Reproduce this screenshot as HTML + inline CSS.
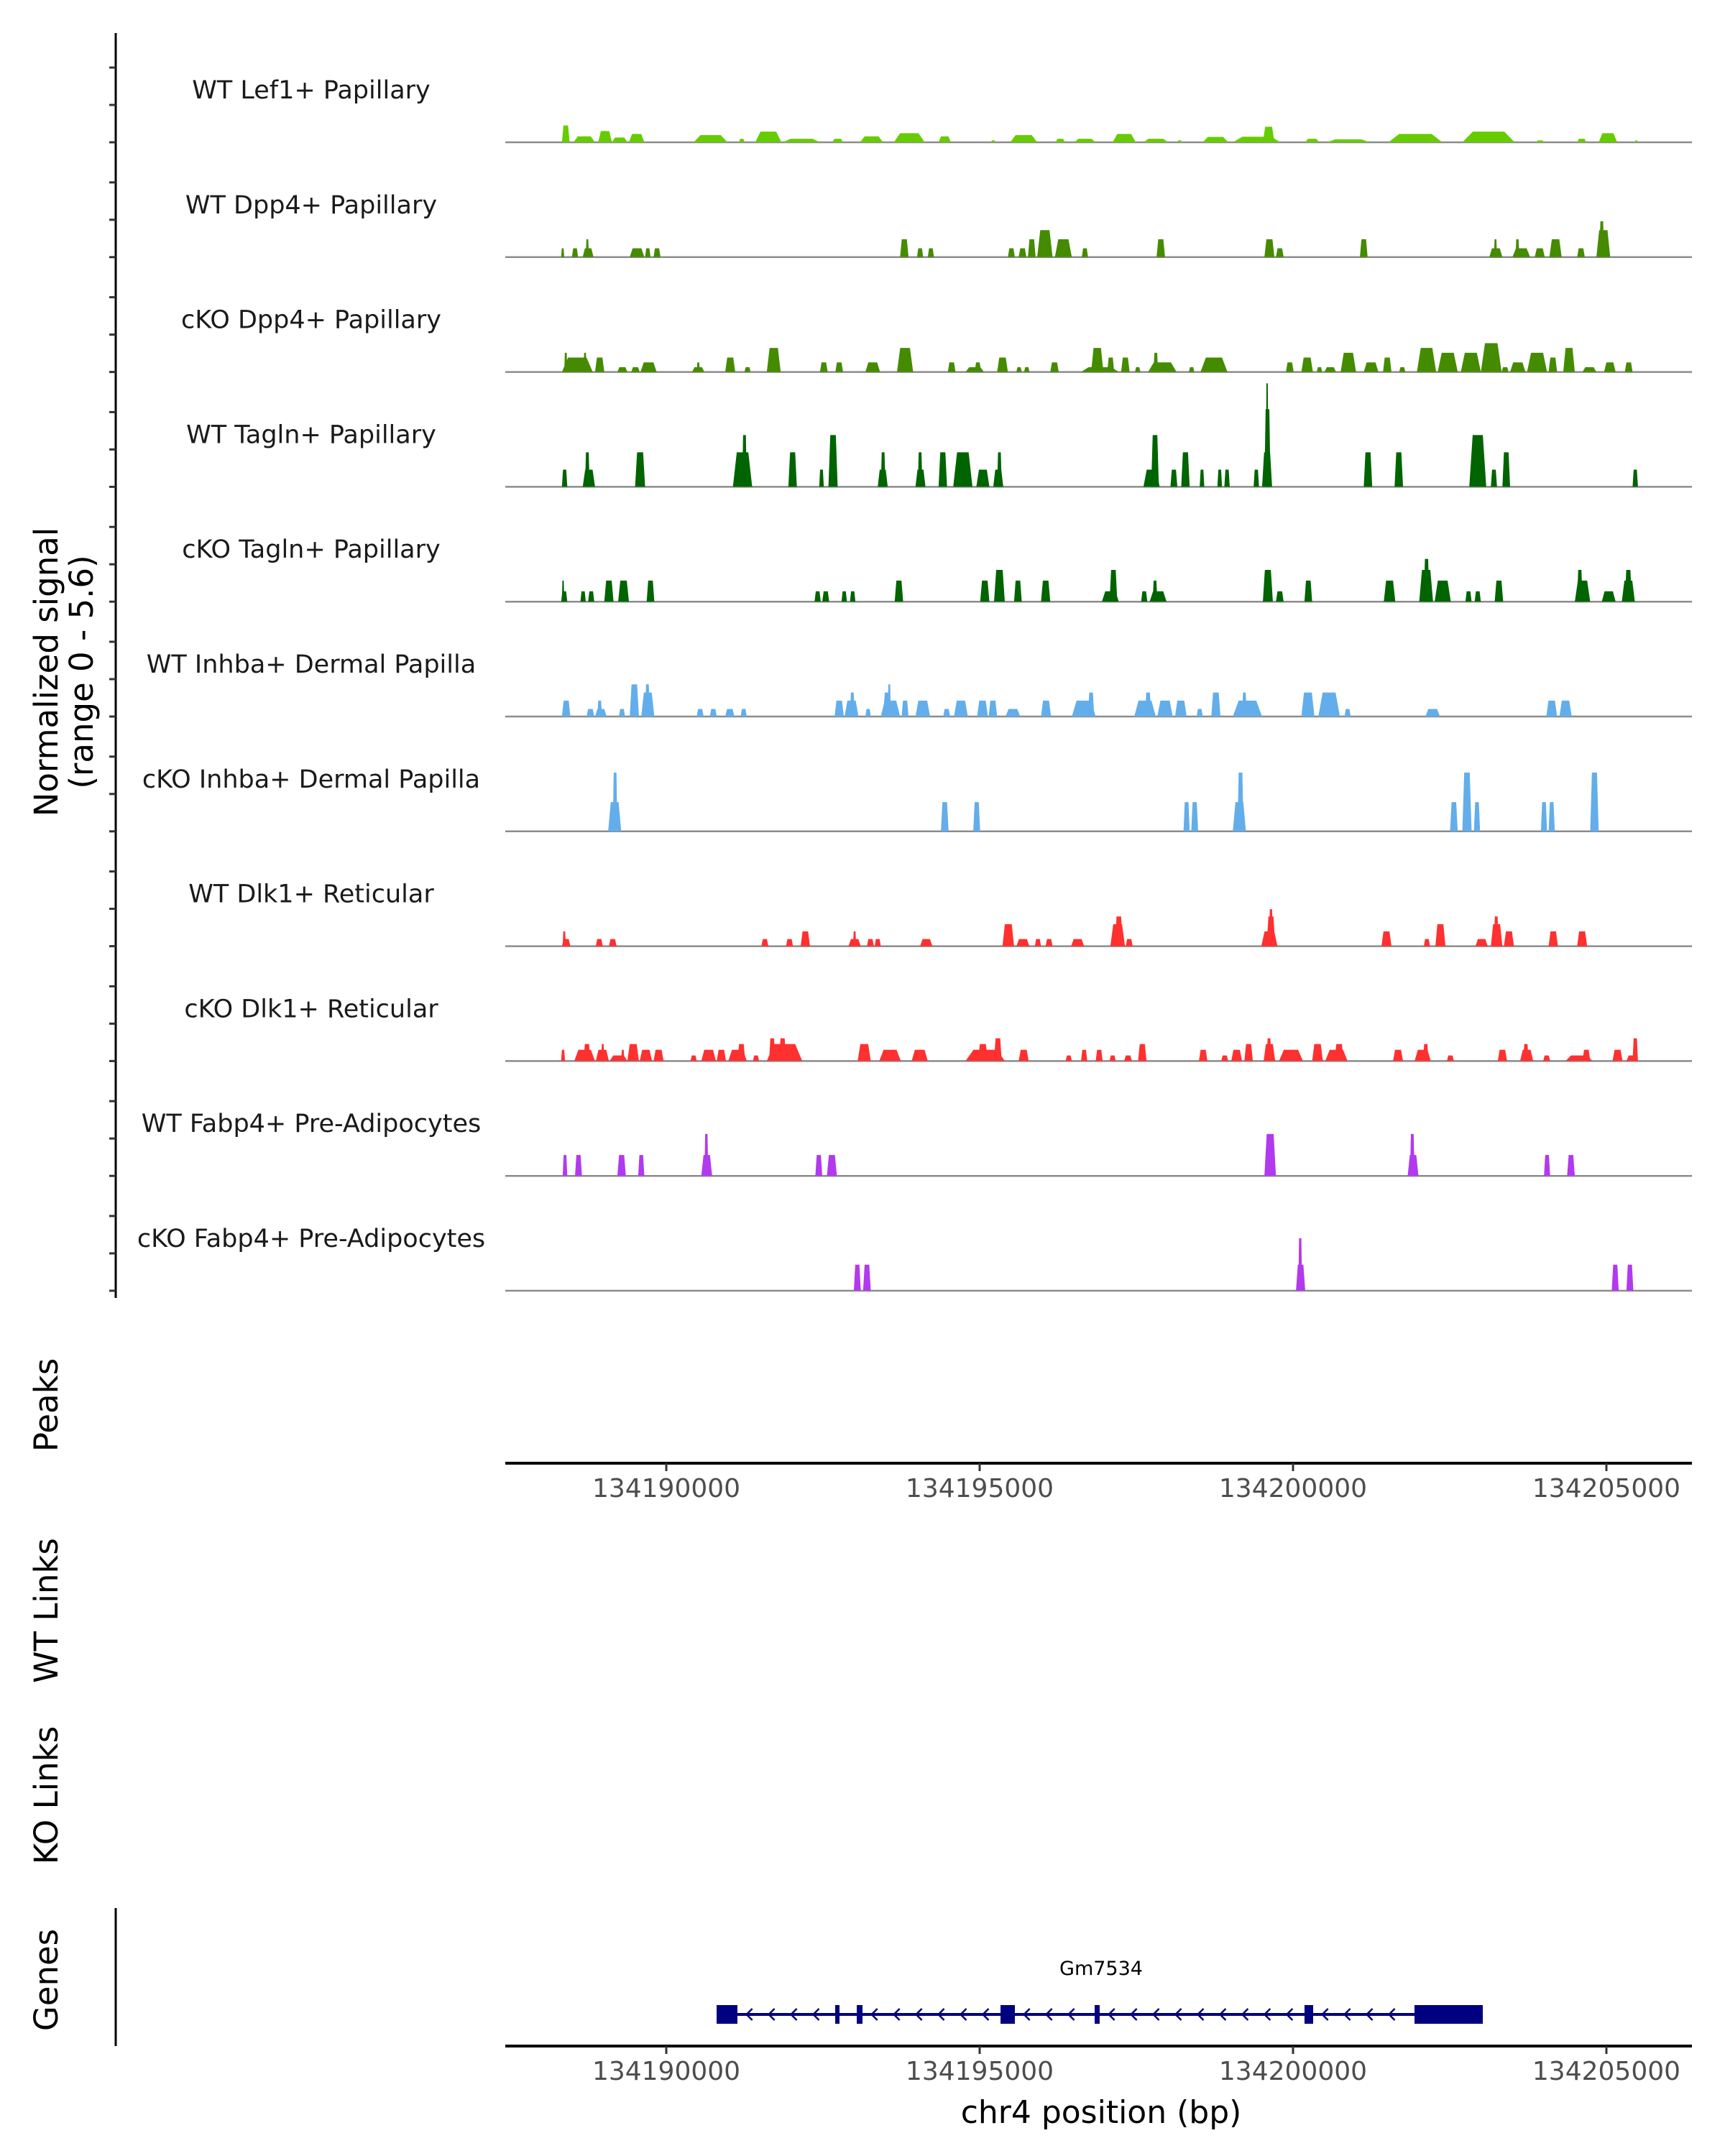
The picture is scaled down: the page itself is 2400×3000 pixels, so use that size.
<!DOCTYPE html>
<html><head><meta charset="utf-8"><title>Coverage plot</title>
<style>
html,body{margin:0;padding:0;background:#fff;}
svg{display:block;font-family:"DejaVu Sans","Liberation Sans",sans-serif;}
</style></head>
<body>
<svg id="chart" width="2400" height="3000" viewBox="0 0 2400 3000" xmlns="http://www.w3.org/2000/svg">
<rect width="2400" height="3000" fill="#fff"/>
<line x1="161" y1="46" x2="161" y2="1806" stroke="#000" stroke-width="3"/>
<g id="yticks"></g>
<text transform="translate(80,935) rotate(-90)" text-anchor="middle" font-size="45" fill="#000">Normalized signal</text>
<text transform="translate(129,935) rotate(-90)" text-anchor="middle" font-size="45" fill="#000">(range 0 - 5.6)</text>
<g id="tracks"></g>
<text transform="translate(80,1955) rotate(-90)" text-anchor="middle" font-size="45">Peaks</text>
<g id="axisTop"></g>
<text transform="translate(80,2241) rotate(-90)" text-anchor="middle" font-size="45">WT Links</text>
<text transform="translate(80,2498) rotate(-90)" text-anchor="middle" font-size="45">KO Links</text>
<text transform="translate(80,2755) rotate(-90)" text-anchor="middle" font-size="45">Genes</text>
<line x1="161" y1="2655" x2="161" y2="2847" stroke="#000" stroke-width="3"/>
<g id="gene"></g>
<text x="1532" y="2748" text-anchor="middle" font-size="27">Gm7534</text>
<g id="axisBottom"></g>
<text x="1532" y="2954" text-anchor="middle" font-size="44">chr4 position (bp)</text>
</svg>
<script>
// genomic bins: REGION_START + bin * BIN_BP
const REGION_START = 134187413;
const BIN_BP = 12.29;
const SIGNAL_MAX = 5.6;
const trackNames = ["WT Lef1+ Papillary","WT Dpp4+ Papillary","cKO Dpp4+ Papillary","WT Tagln+ Papillary","cKO Tagln+ Papillary","WT Inhba+ Dermal Papilla","cKO Inhba+ Dermal Papilla","WT Dlk1+ Reticular","cKO Dlk1+ Reticular","WT Fabp4+ Pre-Adipocytes","cKO Fabp4+ Pre-Adipocytes"];
const trackColors = ["#66cc00","#458b00","#458b00","#006400","#006400","#63aeea","#63aeea","#ff3030","#ff3030","#b23aee","#b23aee"];
const xTicks = [134190000,134195000,134200000,134205000];
// peaks: [startBin, endBin, signal]
const wtLef1 = [[75,85,0.91],[90,118,0.32],[122,140,0.61],[140,160,0.26],[162,182,0.45],[246,290,0.39],[305,312,0.19],[326,360,0.58],[362,410,0.19],[426,440,0.19],[462,492,0.32],[506,546,0.49],[564,580,0.32],[632,638,0.10],[657,692,0.39],[716,728,0.19],[740,768,0.19],[790,820,0.45],[830,862,0.19],[874,880,0.10],[907,940,0.29],[946,1008,0.30],[985,1000,0.84],[1040,1058,0.19],[1068,1124,0.16],[1148,1218,0.45],[1244,1312,0.58],[1340,1350,0.10],[1393,1405,0.19],[1421,1445,0.49],[1468,1472,0.10]];
const wtDpp4 = [[74,78,0.48],[88,96,0.48],[102,116,0.48],[106,110,0.97],[163,182,0.48],[183,190,0.48],[194,203,0.48],[514,525,0.97],[536,544,0.48],[550,558,0.48],[654,663,0.48],[668,678,0.48],[680,690,0.97],[692,712,1.46],[715,737,0.97],[750,758,0.48],[847,858,0.97],[987,1000,0.97],[1002,1012,0.48],[1111,1121,0.97],[1279,1296,0.48],[1285,1289,0.97],[1309,1332,0.48],[1313,1318,0.97],[1338,1351,0.48],[1357,1373,0.97],[1393,1403,0.48],[1418,1436,1.46],[1422,1428,1.94]];
const ckoDpp4 = [[75,115,0.78],[78,82,1.04],[103,107,1.04],[118,130,0.78],[147,160,0.26],[165,176,0.26],[177,198,0.52],[244,260,0.26],[250,254,0.52],[287,300,0.78],[312,320,0.26],[341,359,1.30],[410,420,0.52],[430,440,0.52],[469,488,0.52],[510,531,1.30],[576,586,0.52],[599,623,0.26],[611,619,0.52],[640,654,0.78],[665,672,0.26],[675,682,0.26],[709,720,0.52],[749,798,0.26],[762,778,1.30],[783,792,0.78],[801,812,0.78],[819,826,0.26],[836,873,0.52],[843,849,1.04],[889,896,0.26],[904,939,0.78],[1015,1025,0.52],[1035,1050,0.78],[1055,1062,0.26],[1065,1080,0.26],[1086,1106,1.04],[1116,1135,0.52],[1141,1152,0.78],[1162,1170,0.26],[1185,1210,1.30],[1212,1238,1.04],[1242,1268,1.04],[1268,1295,1.56],[1295,1304,0.26],[1306,1326,0.52],[1328,1354,1.04],[1356,1367,0.78],[1375,1390,1.30],[1400,1418,0.26],[1428,1443,0.52],[1455,1465,0.52]];
const wtTagln = [[75,82,0.93],[102,118,0.93],[105,111,1.87],[170,183,1.87],[297,322,1.87],[309,315,2.80],[369,380,1.87],[409,415,0.93],[421,433,2.80],[485,498,0.93],[489,495,1.87],[534,547,0.93],[537,543,1.87],[564,575,1.87],[583,608,1.87],[613,630,0.93],[635,648,0.93],[640,646,1.87],[830,851,0.93],[840,850,2.80],[865,874,0.93],[879,890,1.87],[903,909,0.93],[926,932,0.93],[935,942,0.93],[973,980,0.93],[984,997,1.87],[987,995,4.20],[989,992,5.60],[1116,1127,1.87],[1156,1167,1.87],[1253,1275,2.80],[1281,1289,0.93],[1296,1306,1.87],[1465,1472,0.93]];
const ckoTagln = [[74,82,0.56],[75,78,1.14],[99,106,0.56],[109,117,0.56],[130,142,1.14],[148,162,1.14],[185,195,1.14],[403,411,0.56],[413,422,0.56],[438,445,0.56],[449,456,0.56],[507,518,1.14],[618,630,1.14],[636,650,1.72],[662,672,1.14],[697,709,1.14],[776,798,0.56],[786,796,1.72],[827,835,0.56],[838,860,0.56],[842,848,1.14],[985,998,1.72],[1002,1012,0.56],[1039,1049,1.14],[1142,1157,1.14],[1188,1206,1.72],[1194,1201,2.31],[1208,1229,1.14],[1248,1256,0.56],[1260,1268,0.56],[1286,1297,1.14],[1390,1410,1.14],[1393,1400,1.72],[1425,1443,0.56],[1451,1468,1.14],[1455,1464,1.72]];
const wtInhba = [[75,86,0.86],[107,117,0.41],[118,133,0.41],[121,127,0.86],[149,157,0.41],[163,175,1.74],[178,195,1.30],[183,189,1.74],[250,259,0.41],[267,276,0.41],[287,299,0.41],[307,315,0.41],[429,441,0.86],[442,460,0.86],[449,455,1.30],[469,476,0.41],[489,514,0.86],[492,503,1.30],[498,502,1.74],[516,525,0.86],[534,553,0.86],[570,579,0.41],[584,602,0.86],[614,628,0.86],[629,640,0.86],[651,670,0.41],[697,710,0.86],[737,768,0.86],[758,766,1.30],[818,846,0.86],[832,840,1.30],[848,868,0.86],[871,886,0.86],[899,907,0.41],[918,930,1.30],[946,984,0.86],[958,964,1.30],[1035,1052,1.30],[1057,1085,1.30],[1091,1099,0.41],[1196,1215,0.41],[1353,1367,0.86],[1370,1386,0.86]];
const ckoInhba = [[135,152,1.58],[141,147,3.18],[567,577,1.58],[609,618,1.58],[882,890,1.58],[892,901,1.58],[946,963,1.58],[952,960,3.18],[1228,1238,1.58],[1244,1256,3.18],[1259,1267,1.58],[1346,1354,1.58],[1356,1364,1.58],[1410,1421,3.18]];
const wtDlk1 = [[75,86,0.39],[76,80,0.80],[119,128,0.39],[136,146,0.39],[334,343,0.39],[366,375,0.39],[385,397,0.80],[447,463,0.39],[453,457,0.80],[471,480,0.39],[481,489,0.39],[540,556,0.39],[647,662,1.19],[665,682,0.39],[689,697,0.39],[703,712,0.39],[736,753,0.39],[787,806,1.19],[793,803,1.61],[807,816,0.39],[983,1004,0.80],[990,1001,1.61],[993,998,2.00],[1139,1152,0.80],[1194,1202,0.39],[1209,1222,1.19],[1261,1277,0.39],[1281,1296,1.19],[1285,1291,1.61],[1298,1311,0.80],[1356,1368,0.80],[1393,1406,0.80]];
const ckoDlk1 = [[74,79,0.61],[91,118,0.61],[103,112,0.92],[119,136,0.61],[126,130,0.92],[137,160,0.30],[152,156,0.61],[160,175,0.92],[176,192,0.61],[194,207,0.61],[242,250,0.30],[256,275,0.61],[276,288,0.61],[291,315,0.61],[303,313,0.92],[323,331,0.30],[341,387,0.92],[344,352,1.23],[357,366,1.23],[459,476,0.92],[487,515,0.61],[529,550,0.61],[599,650,0.61],[615,628,0.92],[636,646,1.23],[668,681,0.61],[729,737,0.30],[749,757,0.61],[768,777,0.61],[786,794,0.30],[805,815,0.30],[823,834,0.92],[902,913,0.61],[931,940,0.30],[944,958,0.61],[961,972,0.92],[986,1001,0.92],[990,996,1.23],[1006,1037,0.61],[1049,1063,0.92],[1066,1095,0.61],[1078,1090,0.92],[1154,1167,0.61],[1182,1203,0.61],[1193,1200,0.92],[1224,1233,0.30],[1290,1302,0.61],[1319,1336,0.61],[1323,1330,0.92],[1349,1358,0.30],[1378,1413,0.30],[1400,1410,0.61],[1439,1452,0.61],[1457,1472,0.30],[1465,1472,1.23]];
const wtFabp4 = [[76,82,1.13],[92,101,1.13],[147,158,1.13],[174,182,1.13],[256,270,1.13],[260,265,2.27],[404,413,1.13],[419,432,1.13],[987,1002,2.27],[1173,1187,1.13],[1176,1182,2.27],[1350,1358,1.13],[1380,1390,1.13]];
const ckoFabp4 = [[454,463,1.41],[466,476,1.41],[1028,1040,1.41],[1031,1036,2.84],[1438,1447,1.41],[1457,1466,1.41]];
const trackPeaks = [wtLef1,wtDpp4,ckoDpp4,wtTagln,ckoTagln,wtInhba,ckoInhba,wtDlk1,ckoDlk1,wtFabp4,ckoFabp4];
// gene exons (bp)
const exonStarts = [134190803,134192695,134193039,134195333,134196835,134200183,134201938];
const exonEnds   = [134191135,134192764,134193131,134195562,134196915,134200321,134203028];

const NS = "http://www.w3.org/2000/svg";
const X0 = 703, X1 = 2354;
const BP0 = 134187431, BP1 = 134206365;
function xScale(bp){ return X0 + (bp - BP0) / (BP1 - BP0) * (X1 - X0); }
function binToBp(b){ return REGION_START + b * BIN_BP; }
const TRACK_TOP = 198, TRACK_STEP = 159.8, TRACK_H = 144;
function yScale(v, base){ return base - v / SIGNAL_MAX * TRACK_H; }
function mk(tag, attrs, parent){ const e = document.createElementNS(NS, tag); for (const k in attrs) e.setAttribute(k, attrs[k]); parent.appendChild(e); return e; }

const tracksG = document.getElementById('tracks');
const ytG = document.getElementById('yticks');
trackNames.forEach((name, i) => {
  const base = TRACK_TOP + i * TRACK_STEP;
  [0, 52, 104].forEach(off => {
    const t = mk('line', {x1:152, x2:161, y1:base-off, y2:base-off, stroke:'#333', 'stroke-width':3}, ytG);
    
    
  });
  const g = mk('g', {}, tracksG);
  
  
  const lbl = mk('text', {x:433, y:base-71, 'text-anchor':'middle', 'dominant-baseline':'middle', 'font-size':35, fill:'#1a1a1a'}, g);
  lbl.textContent = name;
  
  
  const bl = mk('line', {x1:X0, x2:X1, y1:base, y2:base, stroke:'#8c8c8c', 'stroke-width':2.5}, g);
  
  
  trackPeaks[i].forEach(p => {
    const xa = xScale(binToBp(p[0])), xb = xScale(binToBp(p[1]));
    const w = xb - xa, ins = w * 0.2, yt = yScale(p[2], base);
    const poly = mk('polygon', {points: `${xa},${base} ${xa+ins},${yt} ${xb-ins},${yt} ${xb},${base}`, fill: trackColors[i]}, g);
    
    
  });
});

function drawAxis(id, y){
  const g = document.getElementById(id);
  mk('line', {x1:X0, x2:X1, y1:y, y2:y, stroke:'#000', 'stroke-width':4}, g);
  xTicks.forEach(t => {
    const x = xScale(t);
    const tk = mk('line', {x1:x, x2:x, y1:y, y2:y+11, stroke:'#333', 'stroke-width':3}, g);
    
    
    const tl = mk('text', {x:x, y:y+47, 'text-anchor':'middle', 'font-size':36, fill:'#4d4d4d'}, g);
    tl.textContent = String(t);
    
    
  });
}
drawAxis('axisTop', 2036);
drawAxis('axisBottom', 2847);

const geneG = document.getElementById('gene');
const GY = 2803, NAVY = '#000080';
const gStart = xScale(exonStarts[0]), gEnd = xScale(exonEnds[exonEnds.length-1]);
mk('line', {x1:gStart, x2:gEnd, y1:GY, y2:GY, stroke:NAVY, 'stroke-width':4}, geneG);
for (let i = 0; i < exonStarts.length - 1; i++){
  const a = exonEnds[i], b = exonStarts[i+1];
  for (let bp = a + 180; bp < b - 100; bp += 355){
    const x = xScale(bp);
    const ch = mk('polyline', {points:`${x+5},${GY-8} ${x-3},${GY} ${x+5},${GY+8}`, fill:'none', stroke:NAVY, 'stroke-width':2.5}, geneG);
    
    
  }
}
exonStarts.forEach((s, i) => {
  const xa = xScale(s), xb = xScale(exonEnds[i]);
  const ex = mk('rect', {x:xa, y:GY-13, width:Math.max(xb-xa,3), height:26, fill:NAVY}, geneG);
  
  
});
</script>
</body></html>
